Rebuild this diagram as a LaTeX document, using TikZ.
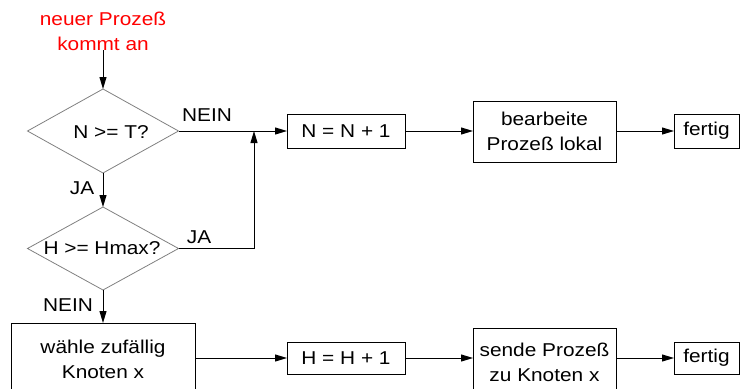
\documentclass[tikz,border=0pt]{standalone}
\usepackage{fontspec}
\setmainfont{Liberation Sans}[FakeStretch=1.12]
\usetikzlibrary{arrows.meta,shapes.geometric}
\begin{document}
\begin{tikzpicture}[x=1pt,y=-1pt,
  every node/.style={font=\fontsize{18.6}{25}\selectfont, inner sep=0pt, outer sep=0pt},
  box/.style={draw, line width=1pt, align=center},
  dia/.style={draw=gray, line width=0.8pt, diamond, inner sep=0pt},
  arr/.style={-{Triangle[length=12pt,width=7pt]}, line width=1pt},
  lbl/.style={anchor=center}
]
\useasboundingbox (0,0) rectangle (749,388);
\clip (0,0) rectangle (749,388);

% start text
\node[text=red, align=center] (st) at (103,31) {neuer Prozeß\\kommt an};

% decisions
\node[dia, minimum width=151pt, minimum height=84pt] (d1) at (103,131) {};
\node (t1) at (111,132) {N >= T?};
\node[dia, minimum width=151pt, minimum height=83pt] (d2) at (103,248.5) {};
\node (t2) at (102,248) {H >= Hmax?};

% row 1
\node[box, minimum width=118pt, minimum height=34pt] (b1) at (346,131) {N = N + 1};
\node[box, minimum width=143pt, minimum height=61pt] (b2) at (544.5,131.5) {bearbeite\\Prozeß lokal};
\node[box, minimum width=65pt, minimum height=34pt] (f1) at (706.5,131) {fertig};

% row 2
\node[box, minimum width=184pt, minimum height=72pt] (b3) at (103,359) {wähle zufällig\\Knoten x};
\node[box, minimum width=118pt, minimum height=32pt] (b4) at (346,358) {H = H + 1};
\node[box, minimum width=143pt, minimum height=68pt] (b5) at (544.5,362) {sende Prozeß\\zu Knoten x};
\node[box, minimum width=65pt, minimum height=32pt] (f2) at (706.5,358) {fertig};

% labels
\node[lbl] (l1) at (207,115) {NEIN};
\node[lbl] (l2) at (82,188) {JA};
\node[lbl] (l3) at (199,237) {JA};
\node[lbl] (l4) at (68,305) {NEIN};

\coordinate (j) at (254,131);

% connectors
\draw[arr] (st.south) -- (d1.north);
\draw[arr] (d1.east) -- (b1.west);
\draw[arr] (b1.east) -- (b1.east -| b2.west);
\draw[arr] (b1.east -| b2.east) -- (f1.west);
\draw[arr] (d1.south) -- (d2.north);
\draw[arr] (d2.east) -| (j);
\draw[arr] (d2.south) -- (b3.north);
\draw[arr] (b4.west -| b3.east) -- (b4.west);
\draw[arr] (b4.east) -- (b4.east -| b5.west);
\draw[arr] (b4.east -| b5.east) -- (f2.west);
\end{tikzpicture}
\end{document}
